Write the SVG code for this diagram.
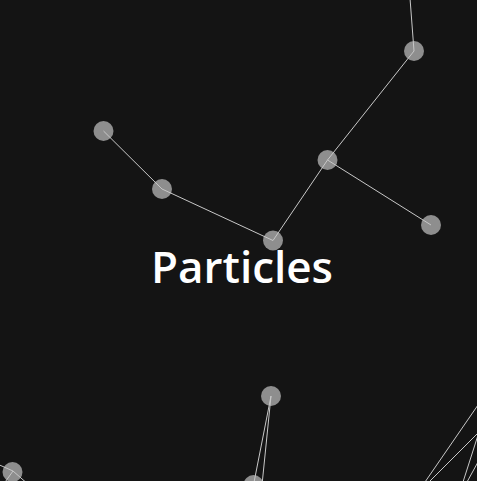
<svg xmlns="http://www.w3.org/2000/svg" width="477" height="481" viewBox="0 0 477 481">
<style>
.p{fill:#8e8e8e}
.l{stroke:#c8c8c8;stroke-width:1;fill:none}
.t{font-family:"Open Sans","Liberation Sans",sans-serif;font-weight:600;font-size:43px;fill:#ffffff}
</style>
<rect width="477" height="481" fill="#141414"/>
<g id="nodes">
<g id="n1"><circle class="p" cx="414" cy="51" r="10"/></g>
<g id="n2"><circle class="p" cx="327.5" cy="160" r="10"/></g>
<g id="n3"><circle class="p" cx="431" cy="225" r="10"/></g>
<g id="n4"><circle class="p" cx="273" cy="240.5" r="10"/></g>
<g id="n5"><circle class="p" cx="162" cy="189" r="10"/></g>
<g id="n6"><circle class="p" cx="103.5" cy="131" r="10"/></g>
<g id="n7"><circle class="p" cx="271" cy="396" r="10"/></g>
<g id="n8"><circle class="p" cx="253.5" cy="485" r="10"/></g>
<g id="n9"><circle class="p" cx="12.5" cy="472" r="10"/></g>
</g>
<g id="connectors" class="l">
<line x1="410" y1="-2" x2="414" y2="51"/>
<line x1="414" y1="51" x2="327.5" y2="160"/>
<line x1="327.5" y1="160" x2="431" y2="225"/>
<line x1="327.5" y1="160" x2="273" y2="240.5"/>
<line x1="273" y1="240.5" x2="162" y2="189"/>
<line x1="162" y1="189" x2="103.5" y2="131"/>
<line x1="271" y1="396" x2="253.5" y2="485"/>
<line x1="271" y1="396" x2="262" y2="485"/>
<line x1="13" y1="471" x2="-5" y2="463"/>
<line x1="13" y1="471" x2="3" y2="485"/>
<line x1="13" y1="471" x2="29" y2="485"/>
<line x1="478" y1="405" x2="425" y2="482"/>
<line x1="479" y1="432" x2="429" y2="482"/>
<line x1="479" y1="432" x2="463" y2="482"/>
<line x1="478" y1="462" x2="467" y2="482"/>
</g>
<text class="t" x="151" y="283" textLength="182" lengthAdjust="spacingAndGlyphs">Particles</text>
</svg>
